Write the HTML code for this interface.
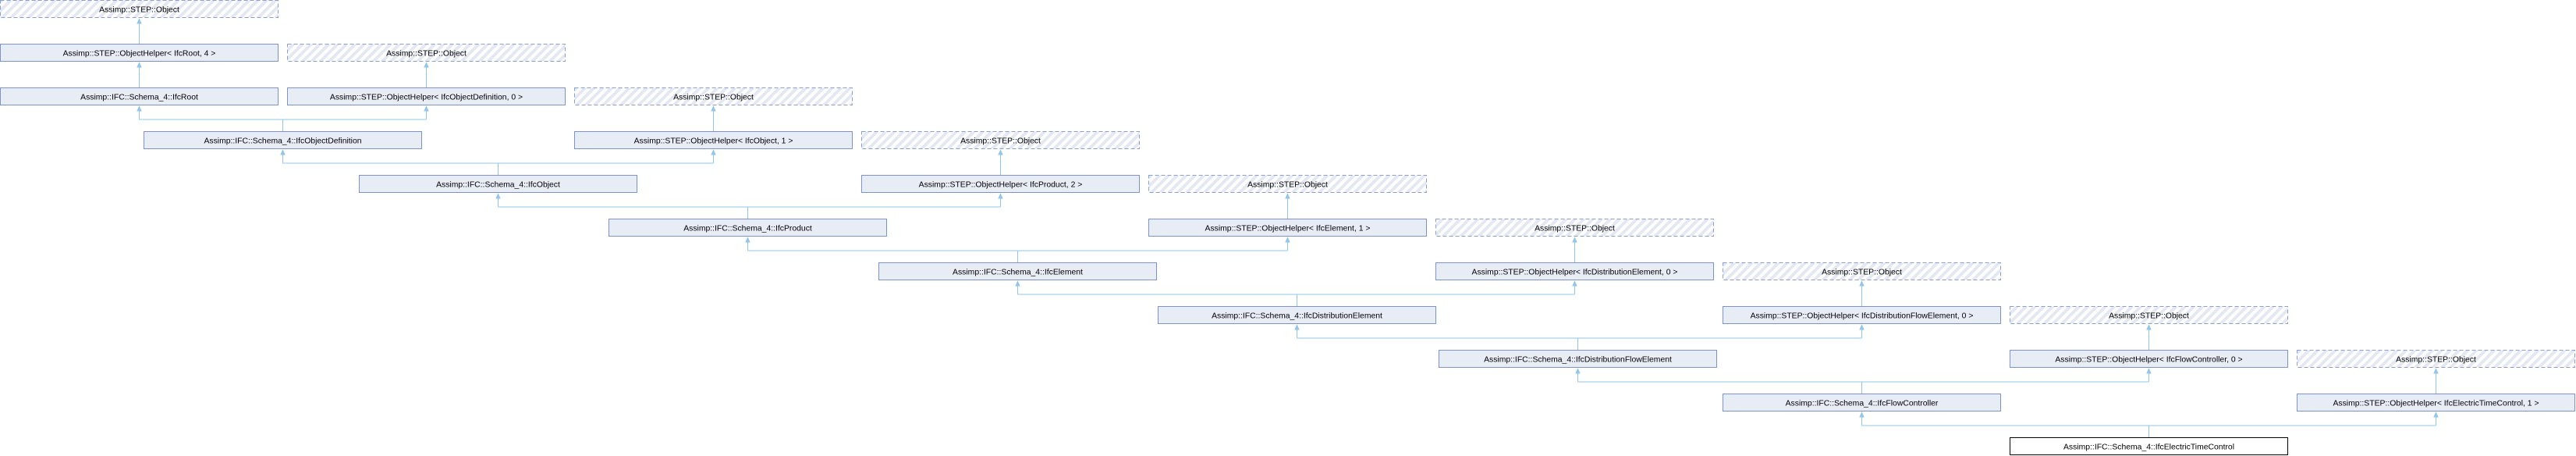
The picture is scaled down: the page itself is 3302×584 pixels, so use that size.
<!DOCTYPE html>
<html><head><meta charset="utf-8"><style>
html,body{margin:0;padding:0;background:#fff;}
svg{display:block;}
text{font-family:"Liberation Sans",sans-serif;font-size:10.4px;fill:#000;text-anchor:middle;}
.b{fill:#e8ecf5;stroke:#7d92c8;stroke-width:1;}
.d{fill:url(#h);stroke:#8aa0d0;stroke-width:1;stroke-dasharray:5,3;}
.f{fill:#fff;stroke:#000;stroke-width:1;}
.l{stroke:#93c5e8;stroke-width:1;fill:none;}
.a{fill:#93c5e8;stroke:#93c5e8;stroke-width:1;}
</style></head><body>
<svg width="3302" height="584" viewBox="0 0 3302 584" xmlns="http://www.w3.org/2000/svg">
<defs><pattern id="h" patternUnits="userSpaceOnUse" width="8" height="8" patternTransform="rotate(45)"><rect width="8" height="8" fill="#fff"/><rect width="4" height="8" fill="#e3e8f2"/></pattern></defs>

<!-- connectors -->
<g>
<path class="l" d="M178.5 56V24 M178.5 112V80 M546.5 112V80 M914.5 168V136 M1282.5 224V192 M1650.5 280V248 M2018.5 336V304 M2386.5 392V360 M2754.5 448V416 M3122.5 504V472"/>
<path class="l" d="M362.5 168V153 M178.5 153H546.5 M178.5 153V136 M546.5 153V136"/>
<path class="l" d="M638.5 224V209 M362.5 209H914.5 M362.5 209V192 M914.5 209V192"/>
<path class="l" d="M958.5 280V265 M638.5 265H1282.5 M638.5 265V248 M1282.5 265V248"/>
<path class="l" d="M1304.5 336V321 M958.5 321H1650.5 M958.5 321V304 M1650.5 321V304"/>
<path class="l" d="M1662.5 392V377 M1304.5 377H2018.5 M1304.5 377V360 M2018.5 377V360"/>
<path class="l" d="M2022.5 448V433 M1662.5 433H2386.5 M1662.5 433V416 M2386.5 433V416"/>
<path class="l" d="M2386.5 504V489 M2022.5 489H2754.5 M2022.5 489V472 M2754.5 489V472"/>
<path class="l" d="M2754.5 560V545 M2386.5 545H3122.5 M2386.5 545V528 M3122.5 545V528"/>
<g class="a">
<path d="M176 30L178.5 24.5L181 30Z"/><path d="M176 86L178.5 80.5L181 86Z"/><path d="M544 86L546.5 80.5L549 86Z"/>
<path d="M912 142L914.5 136.5L917 142Z"/><path d="M1280 198L1282.5 192.5L1285 198Z"/><path d="M1648 254L1650.5 248.5L1653 254Z"/>
<path d="M2016 310L2018.5 304.5L2021 310Z"/><path d="M2384 366L2386.5 360.5L2389 366Z"/><path d="M2752 422L2754.5 416.5L2757 422Z"/>
<path d="M3120 478L3122.5 472.5L3125 478Z"/>
<path d="M176 142L178.5 136.5L181 142Z"/><path d="M544 142L546.5 136.5L549 142Z"/>
<path d="M360 198L362.5 192.5L365 198Z"/><path d="M912 198L914.5 192.5L917 198Z"/>
<path d="M636 254L638.5 248.5L641 254Z"/><path d="M1280 254L1282.5 248.5L1285 254Z"/>
<path d="M956 310L958.5 304.5L961 310Z"/><path d="M1648 310L1650.5 304.5L1653 310Z"/>
<path d="M1302 366L1304.5 360.5L1307 366Z"/><path d="M2016 366L2018.5 360.5L2021 366Z"/>
<path d="M1660 422L1662.5 416.5L1665 422Z"/><path d="M2384 422L2386.5 416.5L2389 422Z"/>
<path d="M2020 478L2022.5 472.5L2025 478Z"/><path d="M2752 478L2754.5 472.5L2757 478Z"/>
<path d="M2384 534L2386.5 528.5L2389 534Z"/><path d="M3120 534L3122.5 528.5L3125 534Z"/>
</g>
</g>

<!-- boxes -->
<rect class="d" x="0.5" y="0.5" width="356" height="22"/><text x="178.5" y="15.5">Assimp::STEP::Object</text>

<rect class="b" x="0.5" y="56.5" width="356" height="22"/><text x="178.5" y="71.5">Assimp::STEP::ObjectHelper&lt; IfcRoot, 4 &gt;</text>
<rect class="d" x="368.5" y="56.5" width="356" height="22"/><text x="546.5" y="71.5">Assimp::STEP::Object</text>

<rect class="b" x="0.5" y="112.5" width="356" height="22"/><text x="178.5" y="127.5">Assimp::IFC::Schema_4::IfcRoot</text>
<rect class="b" x="368.5" y="112.5" width="356" height="22"/><text x="546.5" y="127.5">Assimp::STEP::ObjectHelper&lt; IfcObjectDefinition, 0 &gt;</text>
<rect class="d" x="736.5" y="112.5" width="356" height="22"/><text x="914.5" y="127.5">Assimp::STEP::Object</text>

<rect class="b" x="184.5" y="168.5" width="356" height="22"/><text x="362.5" y="183.5">Assimp::IFC::Schema_4::IfcObjectDefinition</text>
<rect class="b" x="736.5" y="168.5" width="356" height="22"/><text x="914.5" y="183.5">Assimp::STEP::ObjectHelper&lt; IfcObject, 1 &gt;</text>
<rect class="d" x="1104.5" y="168.5" width="356" height="22"/><text x="1282.5" y="183.5">Assimp::STEP::Object</text>

<rect class="b" x="460.5" y="224.5" width="356" height="22"/><text x="638.5" y="239.5">Assimp::IFC::Schema_4::IfcObject</text>
<rect class="b" x="1104.5" y="224.5" width="356" height="22"/><text x="1282.5" y="239.5">Assimp::STEP::ObjectHelper&lt; IfcProduct, 2 &gt;</text>
<rect class="d" x="1472.5" y="224.5" width="356" height="22"/><text x="1650.5" y="239.5">Assimp::STEP::Object</text>

<rect class="b" x="780.5" y="280.5" width="356" height="22"/><text x="958.5" y="295.5">Assimp::IFC::Schema_4::IfcProduct</text>
<rect class="b" x="1472.5" y="280.5" width="356" height="22"/><text x="1650.5" y="295.5">Assimp::STEP::ObjectHelper&lt; IfcElement, 1 &gt;</text>
<rect class="d" x="1840.5" y="280.5" width="356" height="22"/><text x="2018.5" y="295.5">Assimp::STEP::Object</text>

<rect class="b" x="1126.5" y="336.5" width="356" height="22"/><text x="1304.5" y="351.5">Assimp::IFC::Schema_4::IfcElement</text>
<rect class="b" x="1840.5" y="336.5" width="356" height="22"/><text x="2018.5" y="351.5">Assimp::STEP::ObjectHelper&lt; IfcDistributionElement, 0 &gt;</text>
<rect class="d" x="2208.5" y="336.5" width="356" height="22"/><text x="2386.5" y="351.5">Assimp::STEP::Object</text>

<rect class="b" x="1484.5" y="392.5" width="356" height="22"/><text x="1662.5" y="407.5">Assimp::IFC::Schema_4::IfcDistributionElement</text>
<rect class="b" x="2208.5" y="392.5" width="356" height="22"/><text x="2386.5" y="407.5">Assimp::STEP::ObjectHelper&lt; IfcDistributionFlowElement, 0 &gt;</text>
<rect class="d" x="2576.5" y="392.5" width="356" height="22"/><text x="2754.5" y="407.5">Assimp::STEP::Object</text>

<rect class="b" x="1844.5" y="448.5" width="356" height="22"/><text x="2022.5" y="463.5">Assimp::IFC::Schema_4::IfcDistributionFlowElement</text>
<rect class="b" x="2576.5" y="448.5" width="356" height="22"/><text x="2754.5" y="463.5">Assimp::STEP::ObjectHelper&lt; IfcFlowController, 0 &gt;</text>
<rect class="d" x="2944.5" y="448.5" width="356" height="22"/><text x="3122.5" y="463.5">Assimp::STEP::Object</text>

<rect class="b" x="2208.5" y="504.5" width="356" height="22"/><text x="2386.5" y="519.5">Assimp::IFC::Schema_4::IfcFlowController</text>
<rect class="b" x="2944.5" y="504.5" width="356" height="22"/><text x="3122.5" y="519.5">Assimp::STEP::ObjectHelper&lt; IfcElectricTimeControl, 1 &gt;</text>

<rect class="f" x="2576.5" y="560.5" width="356" height="22"/><text x="2754.5" y="575.5">Assimp::IFC::Schema_4::IfcElectricTimeControl</text>
</svg>
</body></html>
